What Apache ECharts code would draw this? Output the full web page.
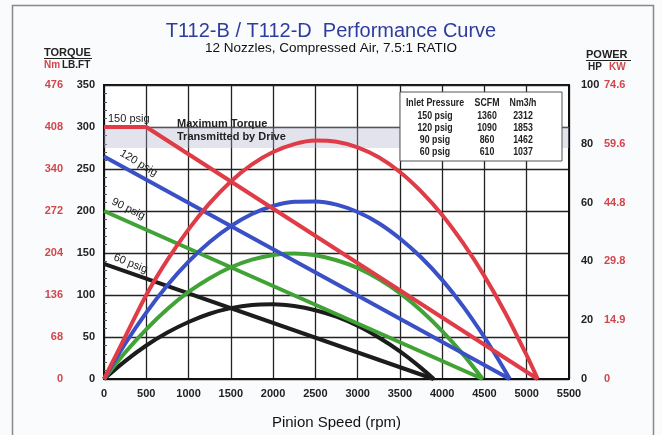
<!DOCTYPE html>
<html>
<head>
<meta charset="utf-8">
<script src="https://cdn.jsdelivr.net/npm/echarts@6/dist/echarts.min.js"></script>
<style>
  html, body { margin: 0; padding: 0; background: #fafbfc; }
  #chart { width: 662px; height: 435px; }
</style>
</head>
<body>
<div id="chart"></div>
<script>
// torque lines (lb.ft) - end points
var tq150Rpm = [0, 500, 5130];
var tq150 = [300, 300, 0];
var tq120Rpm = [0, 4800];
var tq120 = [265, 0];
var tq90Rpm = [0, 4480];
var tq90 = [200, 0];
var tq60Rpm = [0, 3900];
var tq60 = [137, 0];

// power curves (HP)
var pw150Rpm = [0, 250, 500, 750, 1000, 1250, 1500, 1750, 2000, 2250, 2500, 2750, 3000, 3250, 3500, 3750, 4000, 4250, 4500, 4750, 5000, 5130];
var pw150 = [0, 14.3, 28.6, 40.5, 50.9, 59.8, 67.2, 73.0, 77.2, 79.9, 81.1, 80.7, 78.8, 75.4, 70.4, 63.8, 55.8, 46.1, 35.0, 22.3, 8.0, 0];
var pw120Rpm = [0, 250, 500, 750, 1000, 1250, 1500, 1750, 2000, 2250, 2500, 2750, 3000, 3250, 3500, 3750, 4000, 4250, 4500, 4650, 4800];
var pw120 = [0, 12.0, 22.6, 31.9, 39.9, 46.6, 52.0, 56.1, 58.9, 60.3, 60.4, 59.3, 56.8, 53.0, 47.8, 41.4, 33.7, 24.6, 14.2, 7.3, 0];
var pw90Rpm = [0, 250, 500, 750, 1000, 1250, 1500, 1750, 2000, 2250, 2500, 2750, 3000, 3250, 3500, 3750, 4000, 4250, 4480];
var pw90 = [0, 9.0, 16.9, 23.8, 29.6, 34.3, 38.0, 40.6, 42.2, 42.7, 42.1, 40.4, 37.8, 34.0, 29.2, 23.3, 16.3, 8.3, 0];
var pw60Rpm = [0, 250, 500, 750, 1000, 1250, 1500, 1750, 2000, 2250, 2500, 2750, 3000, 3250, 3500, 3750, 3900];
var pw60 = [0, 6.1, 11.4, 15.8, 19.4, 22.2, 24.1, 25.2, 25.4, 24.8, 23.4, 21.2, 18.1, 14.1, 9.4, 3.8, 0];

// tick labels
var lbftTicks = [0, 50, 100, 150, 200, 250, 300, 350];
var nmTicks = ['0', '68', '136', '204', '272', '340', '408', '476'];
var hpTicks = [0, 20, 40, 60, 80, 100];
var kwTicks = ['0', '14.9', '29.8', '44.8', '59.6', '74.6'];

// table
var pressures = ['150 psig', '120 psig', '90 psig', '60 psig'];
var scfm = ['1360', '1090', '860', '610'];
var nm3h = ['2312', '1853', '1462', '1037'];

// max torque band (lb.ft)
var bandLow = 275, bandHigh = 300;

var RED = '#e03c47', BLUE = '#3a50c6', GREEN = '#41a236', BLACK = '#1c1c1c';
var AXRED = '#d0474d';

function zip(xs, ys) {
    var out = [];
    for (var i = 0; i < xs.length; i++) out.push([xs[i], ys[i]]);
    return out;
}

var chart = echarts.init(document.getElementById('chart'));

var font = "'Liberation Sans', Arial, sans-serif";

function lineSeries(name, data, color, yIdx, smooth) {
    return {
        name: name,
        type: 'line',
        yAxisIndex: yIdx,
        data: data,
        smooth: smooth ? 0.3 : false,
        showSymbol: false,
        silent: true,
        lineStyle: { color: color, width: 4 },
        z: 3
    };
}

// table graphics
var tableEls = [{
    type: 'rect',
    shape: { x: 400, y: 92, width: 162, height: 69 },
    style: { fill: '#ffffff', stroke: '#555', lineWidth: 1 },
    z: 10
}];
var colX = [435, 487, 523];
var headers = ['Inlet Pressure', 'SCFM', 'Nm3/h'];
function cell(text, x, y) {
    return {
        type: 'text', x: x, y: y, z: 11, scaleX: 0.8,
        style: { text: text, fill: '#222', font: 'bold 11px ' + font, textAlign: 'center', textVerticalAlign: 'middle' }
    };
}
headers.forEach(function (h, i) {
    tableEls.push(cell(h, colX[i], 103));
});
var rowY = [116, 128, 140, 152];
pressures.forEach(function (p, r) {
    [p, scfm[r], nm3h[r]].forEach(function (v, c) {
        tableEls.push(cell(v, colX[c], rowY[r]));
    });
});

function curveLabel(text, x, y, deg) {
    return {
        type: 'text', x: x, y: y, rotation: -deg * Math.PI / 180, z: 12,
        style: { text: text, fill: '#222', font: '11px ' + font, textVerticalAlign: 'bottom' }
    };
}

var option = {
    backgroundColor: '#fafbfc',
    animation: false,
    title: {
        text: 'T112-B / T112-D  Performance Curve',
        subtext: '12 Nozzles, Compressed Air, 7.5:1 RATIO',
        left: 'center',
        top: 16,
        itemGap: 0,
        textStyle: { fontFamily: font, fontSize: 20, fontWeight: 'normal', color: '#2e3c9e' },
        subtextStyle: { fontFamily: font, fontSize: 13.5, color: '#111' }
    },
    grid: {
        left: 104, right: 93, top: 85, bottom: 54,
        show: true, backgroundColor: '#ffffff', borderColor: '#111', borderWidth: 2
    },
    xAxis: {
        type: 'value',
        min: 0, max: 5500, interval: 500,
        name: 'Pinion Speed (rpm)',
        nameLocation: 'middle',
        nameGap: 36,
        nameTextStyle: { fontFamily: font, fontSize: 15, color: '#111' },
        axisLine: { lineStyle: { color: '#111', width: 2 } },
        axisTick: { show: false },
        axisLabel: {
            fontFamily: font, fontSize: 11, fontWeight: 'bold', color: '#222', margin: 9,
            formatter: function (v) { return String(v); }
        },
        splitLine: { lineStyle: { color: '#222', width: 1.3 } }
    },
    yAxis: [
        {
            type: 'value', position: 'left',
            min: 0, max: 350, interval: 50,
            axisLine: { show: true, lineStyle: { color: '#111', width: 2 } },
            axisTick: { show: true, inside: true, length: 0 },
            minorTick: { show: true, splitNumber: 5, length: 3, lineStyle: { color: '#555' } },
            axisLabel: {
                fontFamily: font, fontSize: 11, fontWeight: 'bold', color: '#222', margin: 9,
                formatter: function (v) { return lbftTicks.indexOf(v) >= 0 ? String(v) : ''; }
            },
            splitLine: { lineStyle: { color: '#222', width: 1.3 } }
        },
        {
            type: 'value', position: 'left', offset: 32,
            min: 0, max: 350, interval: 50,
            axisLine: { show: false }, axisTick: { show: false },
            axisLabel: {
                fontFamily: font, fontSize: 11, fontWeight: 'bold', color: AXRED, margin: 9,
                formatter: function (v) { return nmTicks[lbftTicks.indexOf(v)]; }
            },
            splitLine: { show: false }
        },
        {
            type: 'value', position: 'right',
            min: 0, max: 100, interval: 20,
            axisLine: { show: true, lineStyle: { color: '#111', width: 2 } },
            axisTick: { show: false },
            axisLabel: { fontFamily: font, fontSize: 11, fontWeight: 'bold', color: '#222', margin: 12 },
            splitLine: { show: false }
        },
        {
            type: 'value', position: 'right', offset: 23,
            min: 0, max: 100, interval: 20,
            axisLine: { show: false }, axisTick: { show: false },
            axisLabel: {
                fontFamily: font, fontSize: 11, fontWeight: 'bold', color: AXRED, margin: 12,
                formatter: function (v) { return kwTicks[hpTicks.indexOf(v)]; }
            },
            splitLine: { show: false }
        }
    ],
    series: [
        {
            name: 'band', type: 'line', data: [], silent: true,
            markArea: {
                silent: true,
                itemStyle: { color: 'rgba(175,175,205,0.35)' },
                data: [[{ yAxis: bandLow }, { yAxis: bandHigh }]]
            }
        },
        lineSeries('60 psig torque', zip(tq60Rpm, tq60), BLACK, 0, false),
        lineSeries('60 psig power', zip(pw60Rpm, pw60), BLACK, 2, true),
        lineSeries('90 psig torque', zip(tq90Rpm, tq90), GREEN, 0, false),
        lineSeries('90 psig power', zip(pw90Rpm, pw90), GREEN, 2, true),
        lineSeries('120 psig torque', zip(tq120Rpm, tq120), BLUE, 0, false),
        lineSeries('120 psig power', zip(pw120Rpm, pw120), BLUE, 2, true),
        lineSeries('150 psig torque', zip(tq150Rpm, tq150), RED, 0, false),
        lineSeries('150 psig power', zip(pw150Rpm, pw150), RED, 2, true)
    ],
    graphic: [
        { type: 'rect', shape: { x: 12.5, y: 5.5, width: 641, height: 440 }, style: { fill: null, stroke: '#888', lineWidth: 1.5 }, silent: true },
        { type: 'text', x: 44, y: 47, style: { text: 'TORQUE', fill: '#222', font: 'bold 11px ' + font } },
        { type: 'line', shape: { x1: 44, y1: 58.5, x2: 92, y2: 58.5 }, style: { stroke: '#222', lineWidth: 1 } },
        { type: 'text', x: 44, y: 60, style: { text: 'Nm', fill: AXRED, font: 'bold 10px ' + font } },
        { type: 'text', x: 62, y: 60, style: { text: 'LB.FT', fill: '#222', font: 'bold 10px ' + font } },
        { type: 'text', x: 586, y: 49, style: { text: 'POWER', fill: '#222', font: 'bold 11px ' + font } },
        { type: 'line', shape: { x1: 586, y1: 60.5, x2: 631, y2: 60.5 }, style: { stroke: '#222', lineWidth: 1 } },
        { type: 'text', x: 588, y: 62, style: { text: 'HP', fill: '#222', font: 'bold 10px ' + font } },
        { type: 'text', x: 609, y: 62, style: { text: 'KW', fill: AXRED, font: 'bold 10px ' + font } },
        { type: 'text', x: 177, y: 118, z: 12, style: { text: 'Maximum Torque', fill: '#222', font: 'bold 11px ' + font } },
        { type: 'text', x: 177, y: 131, z: 12, style: { text: 'Transmitted by Drive', fill: '#222', font: 'bold 11px ' + font } },
        curveLabel('150 psig', 108, 124, 0),
        curveLabel('120 psig', 118, 157, 31),
        curveLabel('90 psig', 110, 206, 26),
        curveLabel('60 psig', 112, 262, 22)
    ].concat(tableEls)
};

chart.setOption(option);
</script>
</body>
</html>
